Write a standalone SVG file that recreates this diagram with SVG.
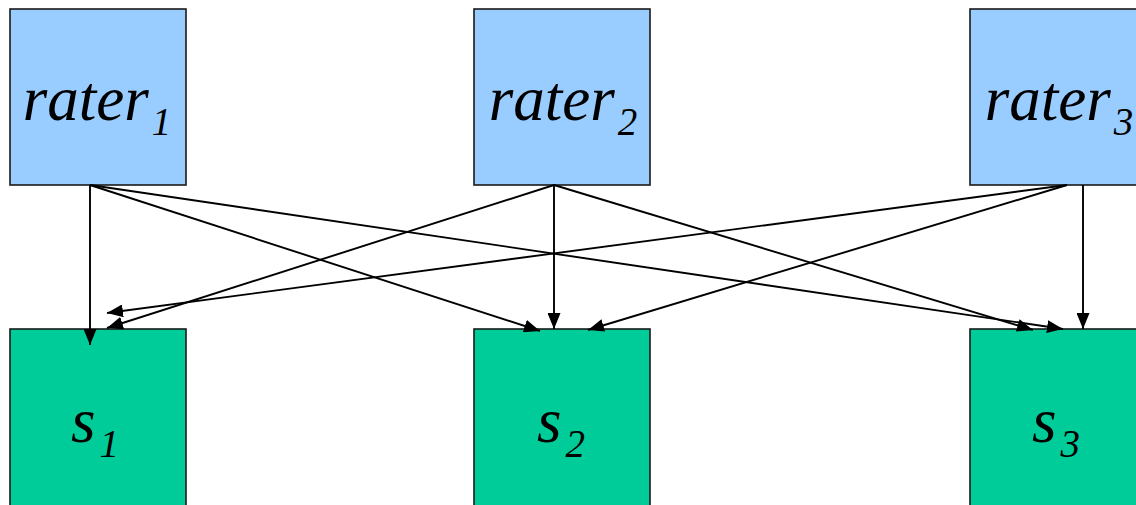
<svg xmlns="http://www.w3.org/2000/svg" width="1136" height="505" viewBox="0 0 1136 505">
  <style>
    .rater { fill: #99CCFF; stroke: #1a1a1a; stroke-width: 1.6; }
    .score { fill: #00CC99; stroke: #1a1a1a; stroke-width: 1.6; }
    .lbl { font-family: 'Liberation Serif', 'Times New Roman', Times, serif; font-style: italic; font-size: 63px; fill: #000; text-anchor: middle; }
    .sub { font-size: 39px; }
    .edge { stroke: #000; stroke-width: 1.9; fill: none; marker-end: url(#arrow); }
  </style>
  <defs>
    <marker id="arrow" markerUnits="userSpaceOnUse" markerWidth="16" markerHeight="13" refX="16" refY="6.5" orient="auto">
      <path d="M0,0 L16,6.5 L0,13 z" fill="#000"/>
    </marker>
  </defs>

  <g id="rater1">
    <rect class="rater" x="10" y="9" width="176" height="176"/>
    <text class="lbl" x="97" y="120">rater<tspan class="sub" dx="3" dy="15">1</tspan></text>
  </g>
  <g id="rater2">
    <rect class="rater" x="474" y="9" width="176" height="176"/>
    <text class="lbl" x="563" y="120">rater<tspan class="sub" dx="3" dy="15">2</tspan></text>
  </g>
  <g id="rater3">
    <rect class="rater" x="970" y="9" width="176" height="176"/>
    <text class="lbl" x="1059" y="120">rater<tspan class="sub" dx="3" dy="15">3</tspan></text>
  </g>

  <g id="s1">
    <rect class="score" x="10" y="329" width="176" height="190"/>
    <text class="lbl" x="95" y="442">s<tspan class="sub" dx="4" dy="15">1</tspan></text>
  </g>
  <g id="s2">
    <rect class="score" x="474" y="329" width="176" height="190"/>
    <text class="lbl" x="561" y="442">s<tspan class="sub" dx="4" dy="15">2</tspan></text>
  </g>
  <g id="s3">
    <rect class="score" x="970" y="329" width="176" height="190"/>
    <text class="lbl" x="1056" y="442">s<tspan class="sub" dx="4" dy="15">3</tspan></text>
  </g>

  <g id="connectors">
    <!-- from rater1 -->
    <line class="edge" x1="90" y1="185" x2="90" y2="345"/>
    <line class="edge" x1="90" y1="185" x2="540" y2="331"/>
    <line class="edge" x1="90" y1="185" x2="1063" y2="329"/>
    <!-- from rater2 -->
    <line class="edge" x1="554" y1="185" x2="107" y2="328"/>
    <line class="edge" x1="554" y1="185" x2="554" y2="329"/>
    <line class="edge" x1="554" y1="185" x2="1033" y2="330"/>
    <!-- from rater3 -->
    <line class="edge" x1="1067" y1="185" x2="107" y2="313"/>
    <line class="edge" x1="1067" y1="185" x2="588" y2="330"/>
    <line class="edge" x1="1083" y1="185" x2="1083" y2="329"/>
  </g>
</svg>
